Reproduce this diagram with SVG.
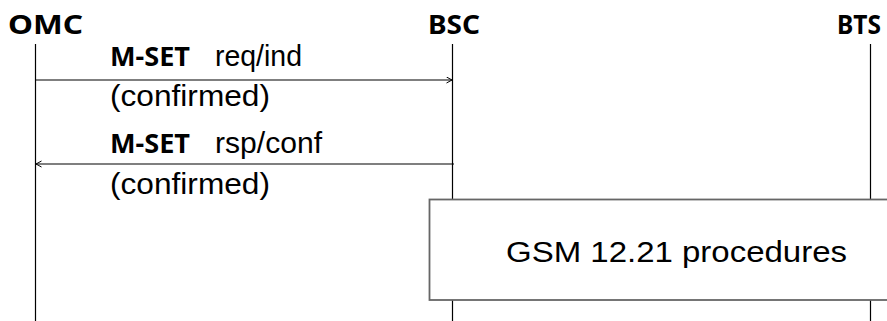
<svg xmlns="http://www.w3.org/2000/svg" width="887" height="321" viewBox="0 0 887 321">
<style>
.hdr{font-family:"Noto Sans","Open Sans",sans-serif;font-weight:bold;font-size:27px;fill:#000}
.bold{font-family:"Noto Sans","Open Sans",sans-serif;font-weight:bold;font-size:26px;fill:#000}
.reg{font-family:"Liberation Sans",Arial,sans-serif;font-size:29px;fill:#000}
.life{stroke:#000;stroke-width:1.2;fill:none}
.msg{stroke:#000;stroke-width:1.2;fill:none}
</style>
<defs>
<marker id="arr" markerWidth="8" markerHeight="8" refX="6" refY="3.5" orient="auto" markerUnits="userSpaceOnUse">
<path d="M0.5,0.5 L6,3.5 L0.5,6.5" fill="none" stroke="#000" stroke-width="1"/>
</marker>
</defs>
<rect width="887" height="321" fill="#fff"/>
<g id="omc">
<text class="hdr" x="8" y="34" textLength="75" lengthAdjust="spacingAndGlyphs">OMC</text>
<line class="life" x1="35.5" y1="44" x2="35.5" y2="321"/>
</g>
<g id="bsc">
<text class="hdr" x="428" y="34" textLength="52" lengthAdjust="spacingAndGlyphs">BSC</text>
<line class="life" x1="452.5" y1="44" x2="452.5" y2="321"/>
</g>
<g id="bts">
<text class="hdr" x="837" y="34" textLength="44" lengthAdjust="spacingAndGlyphs">BTS</text>
<line class="life" x1="870.5" y1="44" x2="870.5" y2="321"/>
</g>
<g id="gsm-procedures">
<rect x="429.5" y="199.5" width="470" height="100.5" fill="#fff" stroke="#666" stroke-width="1.8"/>
<text class="reg" x="506" y="262" textLength="341" lengthAdjust="spacingAndGlyphs">GSM 12.21 procedures</text>
</g>
<g id="connectors">
<line class="msg" x1="36" y1="80" x2="452" y2="80" marker-end="url(#arr)"/>
<line class="msg" x1="454" y1="164" x2="36" y2="164" marker-end="url(#arr)"/>
</g>
<g id="labels">
<text class="bold" x="110" y="66" textLength="80" lengthAdjust="spacingAndGlyphs">M-SET</text>
<text class="reg" x="215" y="66" textLength="87" lengthAdjust="spacingAndGlyphs">req/ind</text>
<text class="reg" x="110" y="106" textLength="160" lengthAdjust="spacingAndGlyphs">(confirmed)</text>
<text class="bold" x="110" y="153" textLength="80" lengthAdjust="spacingAndGlyphs">M-SET</text>
<text class="reg" x="215" y="153" textLength="107" lengthAdjust="spacingAndGlyphs">rsp/conf</text>
<text class="reg" x="110" y="194" textLength="160" lengthAdjust="spacingAndGlyphs">(confirmed)</text>
</g>
</svg>
